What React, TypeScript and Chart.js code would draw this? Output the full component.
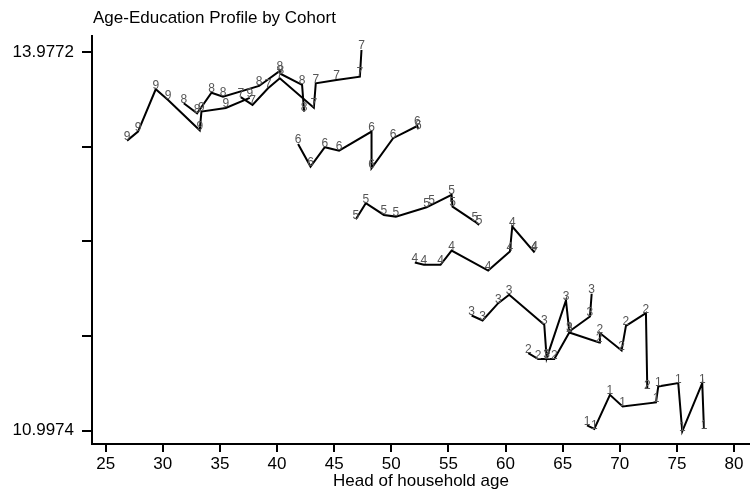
import { useEffect, useRef } from 'react';
import { Chart, registerables } from 'chart.js';

Chart.register(...registerables);

const chartTitle = 'Age-Education Profile by Cohort';
const xAxisTitle = 'Head of household age';
const cohortNames = ['1', '2', '3', '4', '5', '6', '7', '8', '9'];

const c1Age = [67.13, 67.77, 69.14, 70.25, 73.17, 73.37, 75.12, 75.47, 77.22, 77.37];
const c1Edu = [11.039, 11.011, 11.28, 11.188, 11.22, 11.346, 11.372, 10.992, 11.372, 11.011];
const c2Age = [61.99, 62.86, 63.65, 64.27, 65.58, 68.2, 68.26, 70.16, 70.54, 72.29, 72.41];
const c2Edu = [11.608, 11.561, 11.561, 11.561, 11.77, 11.692, 11.766, 11.629, 11.823, 11.923, 11.325];
const c3Age = [57.03, 57.99, 59.36, 60.32, 63.39, 63.6, 65.29, 65.58, 67.39, 67.54];
const c3Edu = [11.904, 11.865, 12.001, 12.067, 11.831, 11.569, 12.022, 11.778, 11.896, 12.075];
const c4Age = [52.06, 52.85, 54.31, 55.28, 58.48, 60.38, 60.59, 62.48, 62.55];
const c4Edu = [12.321, 12.303, 12.303, 12.415, 12.258, 12.407, 12.604, 12.407, 12.415];
const c5Age = [46.9, 47.77, 49.35, 50.4, 53.09, 53.52, 55.28, 55.36, 57.32, 57.69];
const c5Edu = [12.662, 12.788, 12.695, 12.682, 12.756, 12.774, 12.853, 12.761, 12.643, 12.617];
const c6Age = [41.84, 42.93, 44.18, 45.43, 48.27, 48.27, 50.16, 52.27, 52.36];
const c6Edu = [13.254, 13.076, 13.228, 13.201, 13.351, 13.063, 13.299, 13.395, 13.369];
const c7Age = [36.82, 37.85, 39.21, 40.24, 43.22, 43.39, 45.2, 47.25, 47.39];
const c7Edu = [13.622, 13.561, 13.692, 13.77, 13.539, 13.731, 13.757, 13.783, 13.993];
const c8Age = [31.83, 33.0, 34.26, 35.27, 38.43, 40.24, 40.33, 42.19, 42.37];
const c8Edu = [13.574, 13.495, 13.657, 13.626, 13.71, 13.828, 13.804, 13.718, 13.508];
const c9Age = [26.87, 27.83, 29.38, 30.46, 33.23, 33.38, 35.51, 37.61];
const c9Edu = [13.28, 13.351, 13.684, 13.6, 13.361, 13.508, 13.537, 13.616];

const cohortAges = [c1Age, c2Age, c3Age, c4Age, c5Age, c6Age, c7Age, c8Age, c9Age];
const cohortEdus = [c1Edu, c2Edu, c3Edu, c4Edu, c5Edu, c6Edu, c7Edu, c8Edu, c9Edu];

const xTicks = [25, 30, 35, 40, 45, 50, 55, 60, 65, 70, 75, 80];
const yTicks = [10.9974, 11.74235, 12.4873, 13.23225, 13.9772];
const yTickLabels = ['10.9974', '', '', '', '13.9772'];
const xMin = 23.8;
const xMax = 81.4;
const yMin = 10.893;
const yMax = 14.103;

const FONT = "'Liberation Sans', Arial, sans-serif";

const textPlugin = {
  id: 'stataText',
  afterDatasetsDraw(chart: any) {
    const ctx = chart.ctx;
    ctx.save();
    ctx.font = `12px ${FONT}`;
    ctx.fillStyle = '#555555';
    ctx.textAlign = 'center';
    ctx.textBaseline = 'alphabetic';
    chart.data.datasets.forEach((ds: any, i: number) => {
      const meta = chart.getDatasetMeta(i);
      meta.data.forEach((pt: any) => {
        ctx.fillText(ds.label, pt.x, pt.y - 0.5);
      });
    });
    ctx.restore();
  },
  afterDraw(chart: any) {
    const ctx = chart.ctx;
    const area = chart.chartArea;
    ctx.save();
    ctx.fillStyle = '#000';
    ctx.font = `17px ${FONT}`;
    ctx.textAlign = 'left';
    ctx.textBaseline = 'alphabetic';
    ctx.fillText(chartTitle, 93, 23);
    ctx.textAlign = 'center';
    ctx.fillText(xAxisTitle, (area.left + area.right) / 2, 486);
    ctx.restore();
  },
};

export default function App() {
  const ref = useRef<HTMLCanvasElement | null>(null);
  useEffect(() => {
    document.body.style.margin = '0';
    const canvas = ref.current;
    if (!canvas) return;
    const datasets = cohortNames.map((name, i) => ({
      label: name,
      data: cohortAges[i].map((a, j) => ({ x: a, y: cohortEdus[i][j] })),
      showLine: true,
      borderColor: '#000',
      borderWidth: 2,
      pointRadius: 0,
      pointHoverRadius: 0,
      fill: false,
      tension: 0,
    }));
    const chart = new Chart(canvas, {
      type: 'scatter',
      data: { datasets },
      plugins: [textPlugin],
      options: {
        responsive: false,
        animation: false,
        devicePixelRatio: 1,
        layout: { padding: { top: 36, left: 0, right: 0, bottom: 0 } },
        plugins: {
          legend: { display: false },
          title: { display: false },
          tooltip: { enabled: false },
        },
        scales: {
          x: {
            type: 'linear',
            min: xMin,
            max: xMax,
            afterBuildTicks: (scale: any) => {
              scale.ticks = xTicks.map((v) => ({ value: v }));
            },
            afterFit: (scale: any) => {
              scale.height = 46;
            },
            ticks: {
              color: '#000',
              font: { family: FONT, size: 17 },
              padding: 2,
              maxRotation: 0,
              autoSkip: false,
              callback: (v: any) => String(v),
            },
            grid: {
              drawOnChartArea: false,
              drawTicks: true,
              tickLength: 8,
              tickWidth: 2,
              tickColor: '#000',
              lineWidth: 2,
              color: '#000',
            },
            border: { display: true, color: '#000', width: 2 },
          },
          y: {
            type: 'linear',
            min: yMin,
            max: yMax,
            afterBuildTicks: (scale: any) => {
              scale.ticks = yTicks.map((v) => ({ value: v }));
            },
            afterFit: (scale: any) => {
              scale.width = 92;
            },
            ticks: {
              color: '#000',
              font: { family: FONT, size: 17 },
              padding: 8,
              autoSkip: false,
              callback: (_v: any, idx: number) => yTickLabels[idx],
            },
            grid: {
              drawOnChartArea: false,
              drawTicks: true,
              tickLength: 10,
              tickWidth: 2,
              tickColor: '#000',
              lineWidth: 2,
              color: '#000',
            },
            border: { display: true, color: '#000', width: 2 },
          },
        },
      },
    });
    return () => chart.destroy();
  }, []);
  return (
    <div style={{ width: 750, height: 490, background: '#fff' }}>
      <canvas ref={ref} width={750} height={490} style={{ display: 'block' }} />
    </div>
  );
}
